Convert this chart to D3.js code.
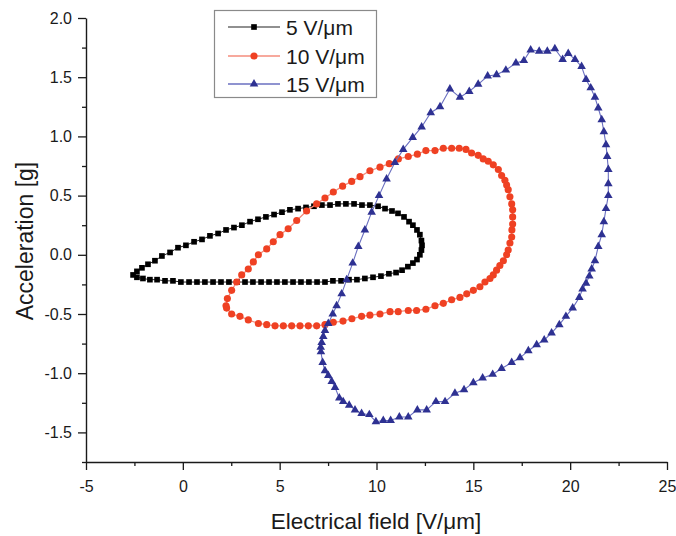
<!DOCTYPE html>
<html>
<head>
<meta charset="utf-8">
<script src="https://cdn.jsdelivr.net/npm/d3@7"></script>
<style>
  html, body { margin: 0; padding: 0; background: #fff; }
  svg { display: block; font-family: "Liberation Sans", Arial, sans-serif; }
</style>
</head>
<body>
<svg id="chart" width="676" height="536"></svg>
<script>
// ---- data ----
const xTicks = [-5, 0, 5, 10, 15, 20, 25];
const yTicks = [-1.5, -1.0, -0.5, 0.0, 0.5, 1.0, 1.5, 2.0];
const seriesNames = ["5 V/\u03bcm", "10 V/\u03bcm", "15 V/\u03bcm"];

const loop5 = [[-2.57,-0.17],[-2.37,-0.14],[-2.11,-0.11],[-1.80,-0.08],[-1.44,-0.05],[-1.08,-0.01],[-0.66,0.02],[-0.25,0.06],[0.16,0.08],[0.58,0.11],[0.99,0.13],[1.40,0.16],[1.82,0.18],[2.23,0.21],[2.64,0.23],[3.05,0.25],[3.47,0.28],[3.88,0.30],[4.29,0.32],[4.71,0.34],[5.12,0.36],[5.53,0.38],[5.95,0.39],[6.36,0.40],[6.77,0.41],[7.18,0.42],[7.60,0.42],[8.01,0.43],[8.42,0.43],[8.84,0.43],[9.25,0.42],[9.66,0.42],[10.08,0.41],[10.44,0.39],[10.80,0.37],[11.11,0.35],[11.42,0.32],[11.68,0.28],[11.88,0.25],[12.09,0.21],[12.24,0.17],[12.32,0.12],[12.35,0.08],[12.32,0.04],[12.24,0.00],[12.09,-0.04],[11.88,-0.07],[11.62,-0.10],[11.32,-0.13],[11.01,-0.15],[10.64,-0.16],[10.23,-0.18],[9.82,-0.19],[9.40,-0.20],[8.99,-0.21],[8.58,-0.21],[8.17,-0.22],[7.75,-0.22],[7.34,-0.23],[6.93,-0.23],[6.51,-0.23],[6.10,-0.23],[5.69,-0.23],[5.27,-0.23],[4.86,-0.23],[4.45,-0.23],[4.04,-0.23],[3.62,-0.23],[3.21,-0.23],[2.80,-0.23],[2.38,-0.23],[1.97,-0.23],[1.56,-0.23],[1.14,-0.23],[0.73,-0.23],[0.32,-0.23],[-0.10,-0.23],[-0.51,-0.22],[-0.92,-0.22],[-1.33,-0.21],[-1.70,-0.21],[-2.06,-0.20],[-2.37,-0.19]];

const loop10 = [[2.23,-0.43],[2.26,-0.45],[2.52,-0.50],[2.95,-0.52],[3.38,-0.55],[3.90,-0.58],[4.33,-0.59],[4.76,-0.60],[5.19,-0.60],[5.62,-0.60],[6.05,-0.60],[6.48,-0.60],[6.91,-0.60],[7.34,-0.59],[7.77,-0.57],[8.27,-0.56],[8.73,-0.54],[9.23,-0.52],[9.66,-0.51],[10.18,-0.50],[10.70,-0.48],[11.12,-0.48],[11.64,-0.47],[12.07,-0.47],[12.55,-0.46],[13.02,-0.43],[13.45,-0.41],[13.88,-0.38],[14.31,-0.36],[14.66,-0.33],[15.00,-0.30],[15.34,-0.27],[15.60,-0.23],[15.86,-0.20],[16.03,-0.17],[16.20,-0.13],[16.37,-0.09],[16.55,-0.05],[16.72,0.00],[16.80,0.04],[16.89,0.10],[16.98,0.15],[16.99,0.21],[17.03,0.26],[17.03,0.32],[17.03,0.38],[16.98,0.43],[16.89,0.49],[16.80,0.55],[16.72,0.59],[16.63,0.63],[16.46,0.67],[16.29,0.72],[16.03,0.76],[15.77,0.79],[15.51,0.81],[15.25,0.84],[14.91,0.86],[14.62,0.89],[14.27,0.90],[13.88,0.90],[13.45,0.90],[13.02,0.88],[12.55,0.88],[12.11,0.85],[11.64,0.83],[11.13,0.81],[10.66,0.77],[10.18,0.74],[9.66,0.71],[9.15,0.66],[8.72,0.62],[8.25,0.58],[7.77,0.53],[7.34,0.48],[6.91,0.43],[6.39,0.37],[5.88,0.29],[5.44,0.22],[5.02,0.17],[4.67,0.11],[4.33,0.05],[3.90,0.00],[3.64,-0.06],[3.38,-0.12],[3.04,-0.17],[2.78,-0.23],[2.52,-0.30],[2.30,-0.37]];

const loop15 = [[7.12,-0.78],[7.17,-0.74],[7.25,-0.69],[7.34,-0.64],[7.51,-0.58],[7.74,-0.50],[7.94,-0.43],[8.20,-0.33],[8.46,-0.21],[8.77,-0.07],[9.06,0.07],[9.40,0.21],[9.75,0.36],[10.13,0.50],[10.52,0.64],[10.95,0.78],[11.38,0.89],[11.87,0.99],[12.33,1.08],[12.80,1.20],[13.28,1.25],[13.79,1.40],[14.31,1.33],[14.79,1.38],[15.25,1.44],[15.74,1.51],[16.20,1.52],[16.68,1.56],[17.20,1.62],[17.61,1.64],[17.96,1.73],[18.40,1.72],[18.82,1.72],[19.21,1.74],[19.61,1.65],[19.90,1.70],[20.25,1.65],[20.59,1.59],[20.82,1.48],[21.06,1.41],[21.28,1.33],[21.45,1.24],[21.63,1.14],[21.74,1.04],[21.85,0.93],[21.91,0.83],[21.97,0.72],[21.97,0.60],[21.97,0.50],[21.85,0.39],[21.74,0.28],[21.63,0.17],[21.45,0.07],[21.28,-0.05],[21.11,-0.12],[20.99,-0.18],[20.82,-0.24],[20.64,-0.29],[20.47,-0.36],[20.13,-0.45],[19.78,-0.52],[19.44,-0.59],[19.04,-0.66],[18.66,-0.72],[18.27,-0.76],[17.84,-0.81],[17.41,-0.87],[16.98,-0.91],[16.46,-0.96],[16.00,-1.01],[15.48,-1.04],[15.00,-1.08],[14.52,-1.14],[14.05,-1.17],[13.54,-1.24],[13.07,-1.24],[12.59,-1.31],[12.11,-1.31],[11.64,-1.37],[11.18,-1.37],[10.73,-1.40],[10.35,-1.40],[9.97,-1.41],[9.63,-1.35],[9.23,-1.34],[8.89,-1.31],[8.59,-1.27],[8.28,-1.24],[8.08,-1.21],[7.86,-1.12],[7.69,-1.07],[7.51,-1.02],[7.34,-0.98],[7.22,-0.91],[7.13,-0.82]];

// ---- layout ----
const W = 676, H = 536;
const margin = {left: 86, top: 18, right: 9, bottom: 74};
const svg = d3.select("#chart");

const x = d3.scaleLinear().domain([-5, 25]).range([margin.left, W - margin.right]);
const y = d3.scaleLinear().domain([-1.75, 2.0]).range([H - margin.bottom, margin.top]);

const axisColor = "#1a1a1a";
const fmtX = d => String(d);
const fmtY = d => d.toFixed(1);

// minor ticks
const xMinor = d3.range(-2.5, 25, 5);
const yMinor = d3.range(-1.75, 2.0, 0.5);

const gx = svg.append("g").attr("transform", `translate(0,${H - margin.bottom})`);
gx.call(d3.axisBottom(x).tickValues(xTicks).tickFormat(fmtX).tickSize(8).tickPadding(11).tickSizeOuter(0));
const gxm = svg.append("g").attr("transform", `translate(0,${H - margin.bottom})`);
gxm.call(d3.axisBottom(x).tickValues(xMinor).tickFormat("").tickSize(4).tickSizeOuter(0));
gxm.select(".domain").remove();

const gy = svg.append("g").attr("transform", `translate(${margin.left},0)`);
gy.call(d3.axisLeft(y).tickValues(yTicks).tickFormat(fmtY).tickSize(8).tickPadding(6).tickSizeOuter(0));
const gym = svg.append("g").attr("transform", `translate(${margin.left},0)`);
gym.call(d3.axisLeft(y).tickValues(yMinor).tickFormat("").tickSize(4).tickSizeOuter(0));
gym.select(".domain").remove();

svg.selectAll(".domain").attr("stroke", axisColor).attr("stroke-width", 1.4);
svg.selectAll(".tick line").attr("stroke", axisColor).attr("stroke-width", 1.3);
svg.selectAll(".tick text").attr("fill", "#1a1a1a").style("font-size", "16px")
   .style("font-family", "'Liberation Sans', Arial, sans-serif");

// axis titles
svg.append("text").attr("x", 376).attr("y", 529).attr("text-anchor", "middle")
  .style("font-size", "22.5px").attr("fill", "#1a1a1a").text("Electrical field [V/\u03bcm]");
svg.append("text").attr("transform", "translate(33,241) rotate(-90)").attr("text-anchor", "middle")
  .style("font-size", "23px").attr("fill", "#1a1a1a").text("Acceleration [g]");

// ---- series ----
const line = d3.line().x(d => x(d[0])).y(d => y(d[1])).curve(d3.curveLinear);
const styles = [
  {data: loop5, line: "#222", lw: 1.0, fill: "#000", sym: d3.symbolSquare, size: 32},
  {data: loop10, line: "#f58c7c", lw: 1.3, fill: "#ef4123", sym: d3.symbolCircle, size: 40},
  {data: loop15, line: "#6a6fc0", lw: 1.1, fill: "#2e3192", sym: d3.symbolTriangle, size: 32}
];

styles.forEach(s => {
  svg.append("path").attr("d", line(s.data) + "Z")
    .attr("fill", "none").attr("stroke", s.line).attr("stroke-width", s.lw);
  svg.append("g").selectAll("path").data(s.data).join("path")
    .attr("transform", d => `translate(${x(d[0])},${y(d[1])})`)
    .attr("d", d3.symbol().type(s.sym).size(s.size))
    .attr("fill", s.fill);
});

// ---- legend ----
const lg = svg.append("g");
lg.append("rect").attr("x", 214.5).attr("y", 10.5).attr("width", 162).attr("height", 87)
  .attr("fill", "#fff").attr("stroke", "#8a8a8a").attr("stroke-width", 1.2);
const legendRows = [27, 56, 84];
styles.forEach((s, i) => {
  const yy = legendRows[i];
  lg.append("line").attr("x1", 228).attr("x2", 280).attr("y1", yy).attr("y2", yy)
    .attr("stroke", s.line).attr("stroke-width", i === 0 ? 1.2 : 1.6);
  lg.append("path").attr("transform", `translate(254,${yy})`)
    .attr("d", d3.symbol().type(s.sym).size(s.size)).attr("fill", s.fill);
  lg.append("text").attr("x", 286).attr("y", yy + 7.5)
    .style("font-size", "21px").attr("fill", "#1a1a1a").text(seriesNames[i]);
});
</script>
</body>
</html>
